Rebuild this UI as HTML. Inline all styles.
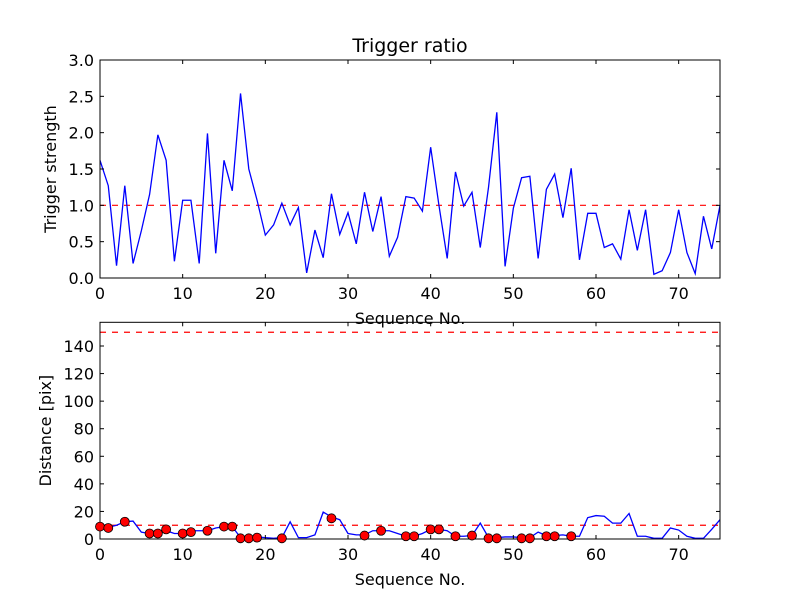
<!DOCTYPE html>
<html><head><meta charset="utf-8"><style>
body{margin:0;background:#fff;}
svg{display:block;font-family:"DejaVu Sans","Liberation Sans",sans-serif;}
</style></head><body>
<svg id="fig" width="800" height="600"></svg>
<script>
const seqTop=[];for(let i=0;i<=75;i++)seqTop.push(i);
const triggerStrength=[1.62,1.27,0.17,1.27,0.2,0.65,1.15,1.97,1.62,0.23,1.07,1.07,0.2,1.99,0.34,1.62,1.2,2.54,1.5,1.07,0.59,0.73,1.03,0.73,0.97,0.07,0.66,0.28,1.16,0.6,0.9,0.47,1.18,0.64,1.12,0.3,0.56,1.12,1.1,0.92,1.8,1.0,0.27,1.46,0.99,1.18,0.42,1.25,2.28,0.16,0.96,1.38,1.4,0.27,1.22,1.43,0.83,1.51,0.25,0.89,0.89,0.42,0.47,0.26,0.94,0.38,0.94,0.05,0.1,0.35,0.94,0.35,0.06,0.85,0.4,1.0];
const distance=[9,8.5,10,12.5,13,5,4,4,6,4,4,6,6,6,8,9,9,1,1,1.5,1,0.5,1,12.5,1,1,3,19.5,16,14,4,3,3,6,6,6,4,2,2,4,7,7,6,2,2,2.5,11.5,1,1,1.5,1.5,1,1,5,2.5,2.5,3,2,2,15.5,17,16.5,11.5,11.5,18.5,2,2,0.5,0.5,8,6.5,2,0.5,0.5,7,14];
const dotIdx=[0,1,3,6,7,8,10,11,13,15,16,17,18,19,22,28,32,34,37,38,40,41,43,45,47,48,51,52,54,55,57];
const dotVal=[9,8,12.5,4,4,7,4,5,6,9,9,0.5,0.5,1,0.5,15,2.5,6,2,2,7,7,2,2.5,0.5,0.5,0.5,0.5,2,2,2];
const xTicks=[0,10,20,30,40,50,60,70];
const yTicksTop=[0,0.5,1,1.5,2,2.5,3];
const yTicksBot=[0,20,40,60,80,100,120,140];
const thrTop=1.0, thrBot=[150,10];

const NS="http://www.w3.org/2000/svg";
const svg=document.getElementById('fig');
function el(t,a,p){const e=document.createElementNS(NS,t);for(const k in a)e.setAttribute(k,a[k]);(p||svg).appendChild(e);return e;}
const X0=100,X1=720;
const sx=v=>X0+(v-0)/75*(X1-X0);
function axes(name,top,bot,ymax,yT,fmt,data,thr,ylab,title){
  const sy=v=>bot-(v/ymax)*(bot-top);
  const g=el('g',{});
  thr.forEach(t=>{const l=el('line',{x1:X0,x2:X1,y1:sy(t),y2:sy(t),stroke:'#ff0000','stroke-width':1.2,'stroke-dasharray':'6,6'},g);});
  const pts=data.map((v,i)=>sx(i)+','+sy(v)).join(' ');
  const pl=el('polyline',{points:pts,fill:'none',stroke:'#0000ff','stroke-width':1.3},g);
  
  const fr=el('rect',{x:X0,y:top,width:X1-X0,height:bot-top,fill:'none',stroke:'#000','stroke-width':1},g);
  
  xTicks.forEach(t=>{const x=sx(t);
    el('line',{x1:x,x2:x,y1:bot,y2:bot-4,stroke:'#000'},g);el('line',{x1:x,x2:x,y1:top,y2:top+4,stroke:'#000'},g);
    const tx=el('text',{x:x,y:bot+21,'text-anchor':'middle','font-size':16},g);tx.textContent=t;
    });
  yT.forEach(t=>{const y=sy(t);
    el('line',{x1:X0,x2:X0+4,y1:y,y2:y,stroke:'#000'},g);el('line',{x1:X1,x2:X1-4,y1:y,y2:y,stroke:'#000'},g);
    const tx=el('text',{x:X0-6,y:y+6,'text-anchor':'end','font-size':16},g);tx.textContent=fmt(t);
    });
  const xl=el('text',{x:410,y:bot+46,'text-anchor':'middle','font-size':16},g);xl.textContent='Sequence No.';
  
  const cy=(top+bot)/2;
  const yl=el('text',{x:0,y:0,'text-anchor':'middle','font-size':16,transform:`translate(${name==='top-axes'?56:51},${cy}) rotate(-90)`},g);yl.textContent=ylab;
  
  if(title){const tt=el('text',{x:410,y:top-8,'text-anchor':'middle','font-size':19},g);tt.textContent=title;
    }
  return sy;
}
axes('top-axes',60,278,3,yTicksTop,v=>v.toFixed(1),triggerStrength,[thrTop],'Trigger strength','Trigger ratio');
const sy2=axes('bottom-axes',322.3,539,157.2,yTicksBot,v=>String(v),distance,thrBot,'Distance [pix]',null);
dotIdx.forEach((ix,k)=>{const c=el('circle',{cx:sx(ix),cy:sy2(dotVal[k]),r:4.5,fill:'#ff0000',stroke:'#000','stroke-width':0.8});
  
  });
</script>
</body></html>
